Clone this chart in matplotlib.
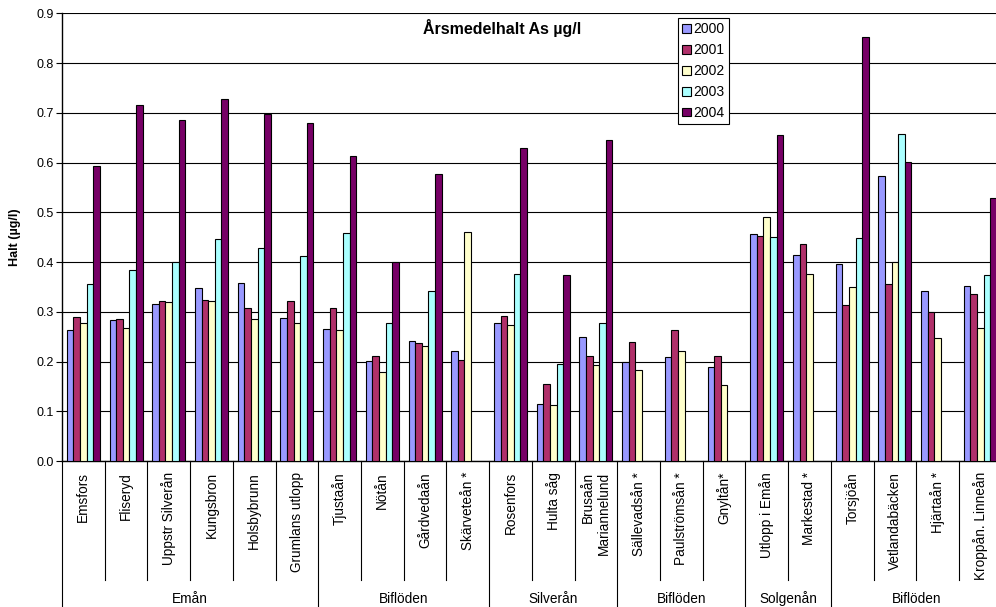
"""Årsmedelhalt As, grouped bar chart."""
import numpy as np
import matplotlib
matplotlib.use('Agg')
import matplotlib.pyplot as plt

plt.rcParams['font.family'] = ['Liberation Sans', 'DejaVu Sans']

# Data
stations = [
    'Emsfors', 'Fliseryd', 'Uppstr Silverån', 'Kungsbron', 'Holsbybrunn',
    'Grumlans utlopp', 'Tjustaån', 'Nötån', 'Gårdvedaån', 'Skärveteån *',
    'Rosenfors', 'Hulta såg', 'Brusaån\nMariannelund', 'Sällevadsån *',
    'Paulströmsån *', 'Gnyltån*', 'Utlopp i Emån', 'Markestad *',
    'Torsjöån', 'Vetlandabäcken', 'Hjärtaån *', 'Kroppån. Linneån'
]
groups = ['Emån', 'Biflöden', 'Silverån', 'Biflöden', 'Solgenån', 'Biflöden']
group_sizes = [6, 4, 3, 3, 2, 4]
years = ['2000', '2001', '2002', '2003', '2004']

v2000 = [0.263, 0.283, 0.315, 0.347, 0.358, 0.287, 0.265, 0.201, 0.241, 0.221,
         0.278, 0.115, 0.249, 0.200, 0.210, 0.188, 0.456, 0.415, 0.397, 0.573,
         0.342, 0.351]
v2001 = [0.289, 0.285, 0.321, 0.323, 0.308, 0.321, 0.307, 0.211, 0.237, 0.204,
         0.291, 0.155, 0.212, 0.240, 0.263, 0.212, 0.452, 0.437, 0.313, 0.355,
         0.299, 0.335]
v2002 = [0.277, 0.267, 0.319, 0.321, 0.285, 0.277, 0.263, 0.179, 0.231, 0.460,
         0.273, 0.112, 0.193, 0.183, 0.222, 0.153, 0.490, 0.376, 0.350, 0.400,
         0.247, 0.268]
v2003 = [0.356, 0.384, 0.400, 0.447, 0.428, 0.413, 0.459, 0.277, 0.342, None,
         0.375, 0.194, 0.278, None, None, None, 0.450, None, 0.448, 0.657,
         None, 0.373]
v2004 = [0.594, 0.715, 0.685, 0.728, 0.697, 0.679, 0.613, 0.400, 0.576, None,
         0.630, 0.374, 0.645, None, None, None, 0.656, None, 0.852, 0.602,
         None, 0.529]

colors = ['#9999FF', '#B0306A', '#FFFFCC', '#AAFFFF', '#770066']

W, H = 996, 607
fig = plt.figure(figsize=(W / 100, H / 100), dpi=100)
# axes in pixel coordinates (right edge runs slightly past the image)
left, right, top, bottom = 62, 1001.7, 13.3, 461
ax = fig.add_axes([left / W, 1 - bottom / H, (right - left) / W, (bottom - top) / H])

n = len(stations)
x = np.arange(n) + 0.5
bw = 0.155
series = [v2000, v2001, v2002, v2003, v2004]
for k, (vals, c, yr) in enumerate(zip(series, colors, years)):
    vals = np.array([np.nan if v is None else v for v in vals], dtype=float)
    ax.bar(x + (k - 2) * bw, vals, width=bw, color=c, edgecolor='black',
           linewidth=0.8, label=yr, zorder=3)

ax.set_xlim(0, n)
ax.set_ylim(0, 0.9)
ax.set_yticks(np.arange(0, 0.91, 0.1))
ax.set_yticklabels([f'{t:.1f}' for t in np.arange(0, 0.91, 0.1)], fontsize=9)
ax.tick_params(axis='y', length=4, width=0.8, direction='out', pad=2)
ax.set_xticks([])
ax.grid(axis='y', color='black', linewidth=0.8, zorder=0)
ax.set_axisbelow(True)
for s in ['top', 'right']:
    ax.spines[s].set_visible(False)
ax.spines['left'].set_linewidth(1)
ax.spines['bottom'].set_linewidth(1)

ax.set_ylabel('Halt (µg/l)', fontsize=9, fontweight='bold', labelpad=11)
fig.text(502 / W, 1 - 28 / H, 'Årsmedelhalt As µg/l', fontsize=11.5,
         fontweight='bold', ha='center', va='center')

# category table under the axis
def yfrac(py):
    return (bottom - py) / (bottom - top)

trans = ax.get_xaxis_transform()
for i, name in enumerate(stations):
    ax.text(x[i], yfrac(472), name, rotation=90, ha='center', va='top',
            multialignment='right', fontsize=9.8, transform=trans)

boundaries = np.cumsum([0] + group_sizes)
for b in range(n + 1):
    y_end = 607 if b in boundaries else 580
    ax.plot([b, b], [0, yfrac(y_end)], color='black', linewidth=0.8,
            transform=trans, clip_on=False)
for g, name in enumerate(groups):
    cx = (boundaries[g] + boundaries[g + 1]) / 2
    ax.text(cx, yfrac(599), name, ha='center', va='center', fontsize=9.8,
            transform=trans)

leg = fig.legend(loc='upper left', bbox_to_anchor=(678 / W, 1 - 18 / H),
                 fontsize=10, frameon=True, fancybox=False, framealpha=1,
                 edgecolor='black', handlelength=0.6, handleheight=0.6,
                 handletextpad=0.2, borderpad=0.3, labelspacing=0.5,
                 borderaxespad=0)
leg.get_frame().set_linewidth(0.8)

fig.savefig('out.png', dpi=100)
